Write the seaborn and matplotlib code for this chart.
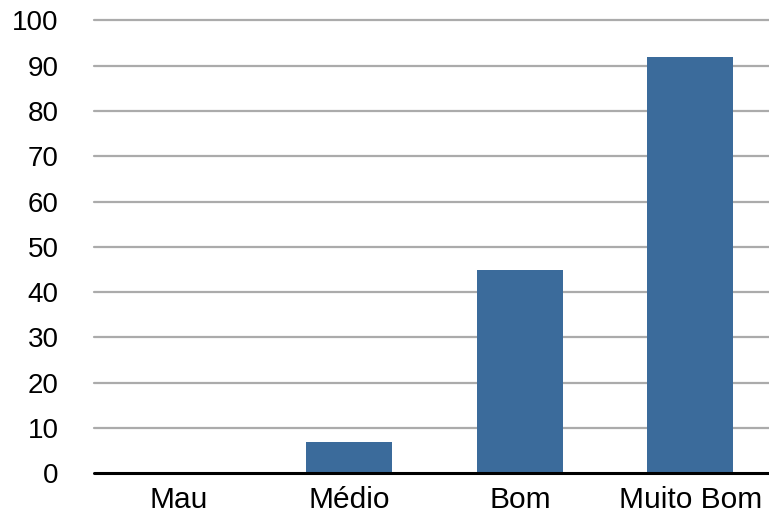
import matplotlib
matplotlib.use("Agg")
import matplotlib.pyplot as plt
import seaborn as sns
import pandas as pd

categories = ["Mau", "Médio", "Bom", "Muito Bom"]
values = [0, 7, 45, 92]
y_ticks = [0, 10, 20, 30, 40, 50, 60, 70, 80, 90, 100]

sns.set_theme(style="white")
plt.rcParams["font.family"] = ["Liberation Sans", "DejaVu Sans"]

df = pd.DataFrame({"categoria": categories, "valor": values})

fig = plt.figure(figsize=(7.69, 5.2), dpi=100)
ax = fig.add_axes([0.1216, 0.0898, 0.887, 0.8708])

sns.barplot(data=df, x="categoria", y="valor", color="#3B6B9B",
            saturation=1, width=0.505, linewidth=0, ax=ax, zorder=3)

ax.set_ylim(0, 100)
ax.set_xlim(-0.5, 3.5)
ax.set_yticks(y_ticks)
ax.set_yticklabels([str(t) for t in y_ticks])
for t in y_ticks[1:]:
    ax.axhline(t, color="#ABABAB", linewidth=1.6, zorder=1, clip_on=False)
ax.axhline(0, color="black", linewidth=2.2, zorder=4, clip_on=False)

for side in ["left", "right", "top", "bottom"]:
    ax.spines[side].set_visible(False)

ax.tick_params(axis="y", length=0, pad=25, labelsize=20, labelcolor="black")
ax.tick_params(axis="x", length=0, pad=9.5, labelsize=21.5, labelcolor="black")
ax.set_xlabel("")
ax.set_ylabel("")

fig.savefig("out.png", dpi=100, facecolor="white")
